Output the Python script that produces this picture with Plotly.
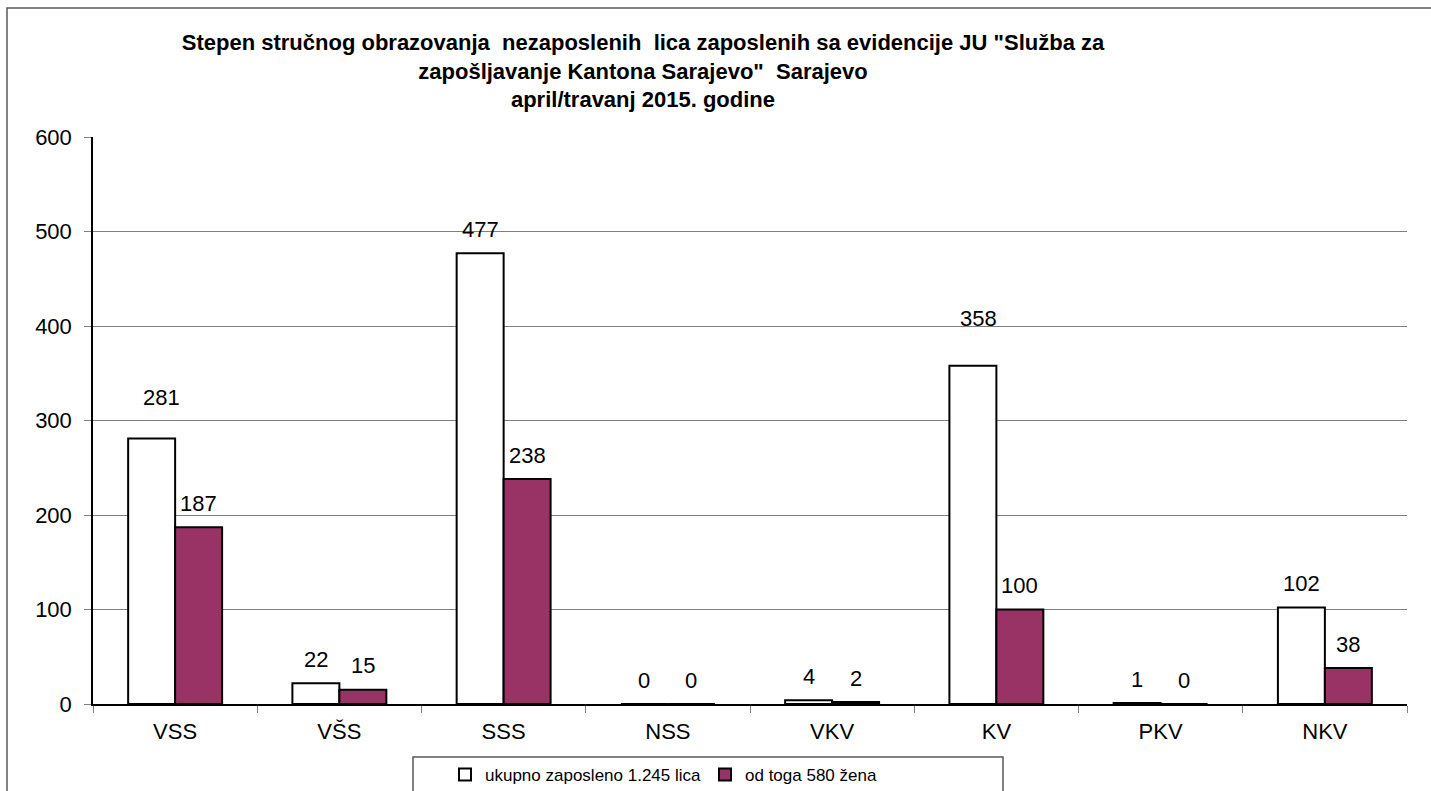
import plotly.graph_objects as go

categories = ["VSS", "VŠS", "SSS", "NSS", "VKV", "KV", "PKV", "NKV"]
ukupno = [281, 22, 477, 0, 4, 358, 1, 102]
zene = [187, 15, 238, 0, 2, 100, 0, 38]
series_names = ["ukupno zaposleno 1.245 lica", "od toga 580 žena"]
title_lines = [
    'Stepen stručnog obrazovanja  nezaposlenih  lica zaposlenih sa evidencije JU "Služba za',
    'zapošljavanje Kantona Sarajevo"  Sarajevo',
    'april/travanj 2015. godine',
]
y_ticks = [0, 100, 200, 300, 400, 500, 600]

FONT = "Liberation Sans, Arial, sans-serif"
PURPLE = "#993366"
W, H = 1431, 791
ML, MR, MT, MB = 93, 24, 137, 87
PW = W - ML - MR
PH = H - MT - MB
BARGAP = 0.428
half = (1 - BARGAP) / 4  # offset of each bar centre from category centre

fig = go.Figure()
fig.add_trace(go.Bar(x=categories, y=ukupno, name=series_names[0],
                     marker=dict(color="white", line=dict(color="black", width=2))))
fig.add_trace(go.Bar(x=categories, y=zene, name=series_names[1],
                     marker=dict(color=PURPLE, line=dict(color="black", width=2))))

# data labels (special nudges for two labels that sit higher in the original)
extra_shift = {(0, 0): (10, 17), (0, 5): (6, 23)}
annotations = []
for si, vals in enumerate([ukupno, zene]):
    for ci, v in enumerate(vals):
        dx, dy = extra_shift.get((si, ci), (0, 0))
        annotations.append(dict(
            x=ci + (-half if si == 0 else half), y=v, xref="x", yref="y",
            text=str(v), showarrow=False, yanchor="middle", xanchor="center",
            yshift=24 + dy, xshift=dx,
            font=dict(family=FONT, size=22, color="black")))

def px_to_paper_x(px):
    return (px - ML) / PW

def px_to_paper_y(py):
    return (H - MB - py) / PH

shapes = [
    # outer chart border
    dict(type="rect", xref="paper", yref="paper",
         x0=px_to_paper_x(7), x1=px_to_paper_x(1445),
         y0=px_to_paper_y(805), y1=px_to_paper_y(8),
         line=dict(color="#5a5a5a", width=1.5), fillcolor="rgba(0,0,0,0)", layer="below"),
    # legend frame
    dict(type="rect", xref="paper", yref="paper",
         x0=px_to_paper_x(413), x1=px_to_paper_x(1003),
         y0=px_to_paper_y(805), y1=px_to_paper_y(757),
         line=dict(color="#5a5a5a", width=1.5), fillcolor="rgba(0,0,0,0)"),
]

fig.update_layout(
    width=W, height=H,
    margin=dict(l=ML, r=MR, t=MT, b=MB, autoexpand=False),
    paper_bgcolor="white", plot_bgcolor="white",
    barmode="group", bargap=BARGAP, bargroupgap=0,
    font=dict(family=FONT, size=22, color="black"),
    title=dict(text="<br>".join(title_lines), xref="container", x=643 / W, xanchor="center",
               yref="container", y=1 - 50 / H, yanchor="top",
               font=dict(family=FONT, size=22, color="black", weight="bold")),
    showlegend=True,
    legend=dict(orientation="h", xref="paper", yref="paper",
                x=px_to_paper_x(445), xanchor="left",
                y=px_to_paper_y(757), yanchor="top",
                font=dict(family=FONT, size=17, color="black"),
                bgcolor="rgba(0,0,0,0)", borderwidth=0, itemwidth=30,
                tracegroupgap=0, entrywidth=215, entrywidthmode="pixels"),
    annotations=annotations,
    shapes=shapes,
    xaxis=dict(type="category", showline=True, linecolor="black", linewidth=1.5,
               ticks="outside", tickson="boundaries", ticklen=7, tickcolor="#808080",
               ticklabelstandoff=7,
               tickfont=dict(family=FONT, size=22, color="black"),
               showgrid=False, zeroline=False, range=[-0.5, 7.5]),
    yaxis=dict(range=[0, 600], tickvals=y_ticks, showline=True, linecolor="black", linewidth=1.5,
               ticks="outside", ticklen=7, tickcolor="#808080", ticklabelstandoff=8,
               showgrid=True, gridcolor="#808080", gridwidth=1, zeroline=False,
               tickfont=dict(family=FONT, size=22, color="black")),
)

fig.write_html("out.html", config={"displayModeBar": False},
               post_script="document.body.style.margin='0px';")
